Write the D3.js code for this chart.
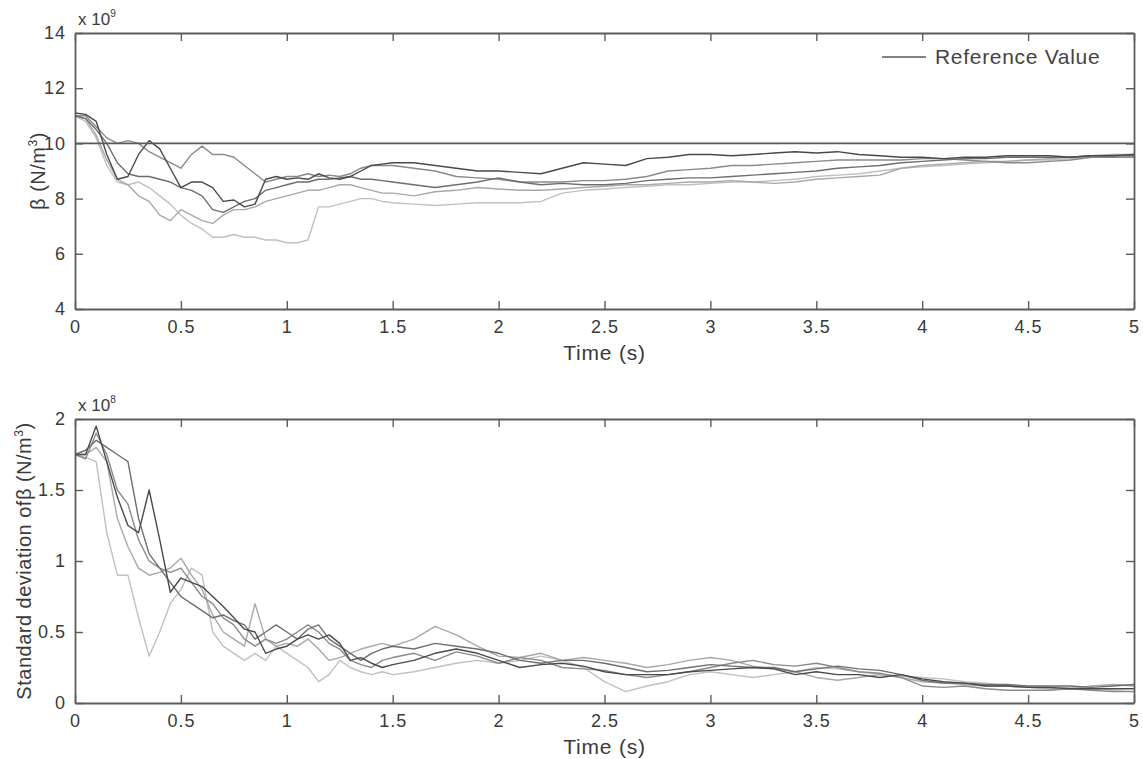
<!DOCTYPE html>
<html>
<head>
<meta charset="utf-8">
<script src="https://cdn.jsdelivr.net/npm/d3@7"></script>
<style>
  html, body { margin: 0; padding: 0; background: #fff; }
  svg { display: block; font-family: "Liberation Sans", Arial, Helvetica, sans-serif; }
</style>
</head>
<body>
<svg id="chart" width="1143" height="759"></svg>
<script>
// Sample times (s) shared by every run
const time = [0,0.05,0.1,0.15,0.2,0.25,0.3,0.35,0.4,0.45,0.5,0.55,0.6,0.65,0.7,0.75,0.8,0.85,0.9,0.95,
  1,1.05,1.1,1.15,1.2,1.25,1.3,1.35,1.4,1.45,1.5,1.6,1.7,1.8,1.9,2,2.1,2.2,2.3,2.4,2.5,2.6,2.7,2.8,2.9,
  3,3.1,3.2,3.3,3.4,3.5,3.6,3.7,3.8,3.9,4,4.1,4.2,4.3,4.4,4.5,4.6,4.7,4.8,4.9,5];

// Estimated beta (x 10^9 N/m^3), five runs
const betaRun1 = [11.1,11.05,10.8,9.6,8.7,8.8,9.6,10.1,9.8,9.1,8.4,8.6,8.6,8.4,7.9,7.95,7.7,7.8,8.7,8.8,
  8.7,8.75,8.7,8.9,8.75,8.7,8.8,9.0,9.2,9.25,9.3,9.3,9.2,9.1,9.0,9.0,8.95,8.9,9.1,9.3,9.25,9.2,9.45,9.5,9.6,
  9.6,9.55,9.6,9.65,9.7,9.65,9.7,9.6,9.55,9.5,9.5,9.45,9.5,9.5,9.55,9.55,9.55,9.5,9.55,9.55,9.6];
const betaRun2 = [11.0,10.9,10.5,10.0,9.3,8.9,8.8,8.8,8.7,8.6,8.4,8.3,8.1,7.6,7.5,7.7,7.9,8.0,8.3,8.4,
  8.5,8.6,8.6,8.7,8.7,8.75,8.8,8.7,8.7,8.65,8.6,8.5,8.4,8.5,8.6,8.75,8.6,8.5,8.55,8.5,8.5,8.55,8.65,8.7,8.75,
  8.75,8.8,8.85,8.9,8.95,9.0,9.1,9.15,9.2,9.3,9.35,9.4,9.45,9.45,9.5,9.5,9.5,9.5,9.55,9.55,9.55];
const betaRun3 = [11.0,11.0,10.6,10.2,10.0,10.1,10.0,9.7,9.5,9.3,9.1,9.6,9.9,9.6,9.6,9.5,9.2,8.9,8.6,8.7,
  8.8,8.8,8.9,8.8,8.85,8.8,8.9,9.1,9.2,9.2,9.2,9.1,9.0,8.8,8.75,8.7,8.6,8.6,8.6,8.65,8.65,8.7,8.8,9.0,9.05,
  9.1,9.2,9.2,9.25,9.3,9.35,9.4,9.4,9.4,9.4,9.45,9.45,9.4,9.35,9.3,9.3,9.35,9.4,9.5,9.5,9.5];
const betaRun4 = [11.0,10.9,10.3,9.4,8.7,8.5,8.1,7.9,7.4,7.2,7.6,7.4,7.2,7.1,7.4,7.6,7.6,7.7,7.9,8.0,
  8.1,8.2,8.3,8.3,8.4,8.5,8.5,8.4,8.3,8.2,8.2,8.1,8.25,8.3,8.4,8.35,8.3,8.3,8.35,8.4,8.45,8.5,8.5,8.55,8.6,
  8.6,8.65,8.6,8.55,8.6,8.7,8.75,8.8,8.85,9.1,9.2,9.25,9.3,9.35,9.35,9.4,9.45,9.5,9.55,9.6,9.6];
const betaRun5 = [11.0,10.8,10.2,9.2,8.6,8.5,8.6,8.4,8.1,7.8,7.4,7.1,6.9,6.6,6.6,6.7,6.6,6.6,6.5,6.5,
  6.4,6.4,6.5,7.7,7.7,7.8,7.9,8.0,8.0,7.9,7.85,7.8,7.75,7.8,7.85,7.85,7.85,7.9,8.2,8.3,8.35,8.4,8.45,8.5,8.5,
  8.55,8.6,8.6,8.65,8.7,8.8,8.85,8.9,9.0,9.1,9.15,9.2,9.25,9.3,9.35,9.4,9.4,9.45,9.5,9.55,9.6];
const betaReference = 10;

// Estimated standard deviation of beta (x 10^8 N/m^3), same five runs
const sdRun1 = [1.75,1.75,1.95,1.7,1.45,1.25,1.2,1.5,1.15,0.78,0.88,0.85,0.82,0.75,0.68,0.6,0.52,0.5,0.35,0.38,
  0.4,0.45,0.48,0.45,0.48,0.42,0.3,0.32,0.28,0.25,0.27,0.3,0.35,0.38,0.35,0.3,0.25,0.27,0.28,0.26,0.22,0.2,0.2,0.2,0.22,
  0.23,0.24,0.25,0.24,0.2,0.22,0.2,0.2,0.18,0.2,0.17,0.15,0.14,0.12,0.12,0.11,0.11,0.1,0.1,0.1,0.1];
const sdRun2 = [1.75,1.78,1.85,1.8,1.75,1.7,1.3,1.05,0.95,0.85,0.75,0.7,0.65,0.6,0.62,0.58,0.55,0.45,0.5,0.55,
  0.5,0.45,0.52,0.55,0.45,0.4,0.35,0.3,0.35,0.38,0.4,0.38,0.42,0.4,0.38,0.35,0.3,0.28,0.3,0.3,0.28,0.25,0.22,0.23,0.25,
  0.27,0.26,0.25,0.25,0.22,0.24,0.26,0.24,0.23,0.2,0.16,0.14,0.14,0.13,0.13,0.12,0.12,0.12,0.11,0.12,0.13];
const sdRun3 = [1.75,1.72,1.9,1.75,1.5,1.4,1.15,1.0,0.95,0.92,0.95,0.85,0.75,0.7,0.6,0.55,0.45,0.4,0.45,0.42,
  0.45,0.5,0.55,0.5,0.42,0.38,0.3,0.27,0.25,0.3,0.32,0.35,0.3,0.36,0.33,0.28,0.32,0.3,0.25,0.24,0.23,0.2,0.18,0.2,0.22,
  0.25,0.28,0.3,0.27,0.26,0.28,0.25,0.22,0.21,0.18,0.12,0.11,0.12,0.1,0.09,0.09,0.09,0.1,0.09,0.08,0.08];
const sdRun4 = [1.75,1.75,1.8,1.7,1.3,1.1,0.95,0.9,0.92,0.95,1.02,0.9,0.8,0.62,0.5,0.45,0.4,0.7,0.45,0.4,
  0.42,0.4,0.45,0.38,0.3,0.32,0.35,0.38,0.4,0.42,0.4,0.45,0.54,0.48,0.4,0.33,0.32,0.35,0.3,0.32,0.3,0.28,0.25,0.27,0.3,
  0.32,0.3,0.26,0.24,0.22,0.18,0.16,0.18,0.2,0.18,0.15,0.14,0.13,0.12,0.12,0.11,0.1,0.1,0.12,0.13,0.12];
const sdRun5 = [1.75,1.73,1.7,1.2,0.9,0.9,0.6,0.33,0.5,0.7,0.8,0.95,0.9,0.5,0.4,0.35,0.3,0.35,0.3,0.4,
  0.35,0.3,0.25,0.15,0.2,0.3,0.25,0.22,0.2,0.22,0.2,0.22,0.25,0.28,0.3,0.28,0.3,0.33,0.3,0.25,0.15,0.08,0.12,0.15,0.2,
  0.22,0.2,0.18,0.2,0.22,0.25,0.24,0.22,0.2,0.19,0.18,0.17,0.15,0.14,0.12,0.11,0.1,0.11,0.1,0.09,0.08];

const xTicks = [0,0.5,1,1.5,2,2.5,3,3.5,4,4.5,5];
const betaTicks = [4,6,8,10,12,14];
const sdTicks = [0,0.5,1,1.5,2];
const runColors = ["#4a4a4a","#6e6e6e","#8a8a8a","#a8a8a8","#c0c0c0"];

const svg = d3.select("#chart");
const plotLeft = 75, plotRight = 1134;
const axisColor = "#5c5c5c";
const textColor = "#3a3a3a";

function panel(opts) {
  const x = d3.scaleLinear().domain([0, 5]).range([plotLeft, plotRight]);
  const y = d3.scaleLinear().domain(opts.domain).range([opts.bottom, opts.top]);
  const g = svg.append("g");

  // one path per run, lightest drawn first
  const line = d3.line().x((d, i) => x(time[i])).y(d => y(d));
  opts.runs.slice().reverse().forEach((run, k) => {
    const idx = opts.runs.length - 1 - k;
    g.append("path").datum(run)
      .attr("fill", "none")
      .attr("stroke", runColors[idx])
      .attr("stroke-width", 1.4)
      .attr("stroke-linejoin", "round")
      .attr("d", line);
  });

  if (opts.reference !== undefined) {
    g.append("line")
      .attr("x1", x(0)).attr("x2", x(5))
      .attr("y1", y(opts.reference)).attr("y2", y(opts.reference))
      .attr("stroke", "#5a5a5a").attr("stroke-width", 1.7);
  }

  // boxed axes with inward ticks on all four sides
  const tickLen = 8;
  const ax = (gen, tf) => {
    const a = g.append("g").attr("transform", tf).call(gen);
    a.select(".domain").attr("stroke", axisColor).attr("stroke-width", 1.8);
    a.selectAll(".tick line").attr("stroke", axisColor).attr("stroke-width", 1.4);
    a.selectAll("text").attr("fill", textColor).style("font-size", "18px")
      .style("letter-spacing", "1px");
    return a;
  };
  ax(d3.axisBottom(x).tickValues(xTicks).tickSize(-tickLen).tickSizeOuter(0).tickPadding(11)
      .tickFormat(d3.format("~g")), `translate(0,${opts.bottom})`);
  ax(d3.axisTop(x).tickValues(xTicks).tickSize(-tickLen).tickSizeOuter(0).tickFormat(""),
      `translate(0,${opts.top})`);
  ax(d3.axisLeft(y).tickValues(opts.ticks).tickSize(-tickLen).tickSizeOuter(0).tickPadding(9)
      .tickFormat(d3.format("~g")), `translate(${plotLeft},0)`);
  ax(d3.axisRight(y).tickValues(opts.ticks).tickSize(-tickLen).tickSizeOuter(0).tickFormat(""),
      `translate(${plotRight},0)`);

  // exponent marker
  const ex = g.append("text").attr("x", plotLeft + 3).attr("y", opts.top - 8)
    .attr("fill", textColor).style("font-size", "17px");
  ex.append("tspan").text("x 10");
  ex.append("tspan").attr("dy", -8).style("font-size", "10px").text(opts.exponent);

  // axis titles
  g.append("text").attr("x", (plotLeft + plotRight) / 2).attr("y", opts.bottom + 51)
    .attr("text-anchor", "middle").attr("fill", textColor).style("font-size", "21px")
    .style("letter-spacing", "0.8px")
    .text("Time (s)");
  const yl = g.append("text")
    .attr("transform", `translate(${opts.ylabelX},${(opts.top + opts.bottom) / 2}) rotate(-90)`)
    .attr("text-anchor", "middle").attr("fill", textColor).style("font-size", "20px")
    .style("letter-spacing", "0.5px");
  yl.append("tspan").text(opts.ylabel + " (N/m");
  yl.append("tspan").attr("dy", -8).style("font-size", "12px").text("3");
  yl.append("tspan").attr("dy", 8).text(")");

  return { g, x, y };
}

const betaPanel = panel({
  top: 33, bottom: 309, domain: [4, 14], ticks: betaTicks,
  runs: [betaRun1, betaRun2, betaRun3, betaRun4, betaRun5],
  reference: betaReference, exponent: "9", ylabel: "β", ylabelX: 45
});

// legend
betaPanel.g.append("line").attr("x1", 882).attr("x2", 926).attr("y1", 57).attr("y2", 57)
  .attr("stroke", "#5a5a5a").attr("stroke-width", 1.7);
betaPanel.g.append("text").attr("x", 935).attr("y", 64).attr("fill", "#444")
  .style("font-size", "21px").style("letter-spacing", "0.7px").text("Reference Value");

panel({
  top: 419, bottom: 703, domain: [0, 2], ticks: sdTicks,
  runs: [sdRun1, sdRun2, sdRun3, sdRun4, sdRun5],
  exponent: "8", ylabel: "Standard deviation ofβ", ylabelX: 31
});
</script>
</body>
</html>
